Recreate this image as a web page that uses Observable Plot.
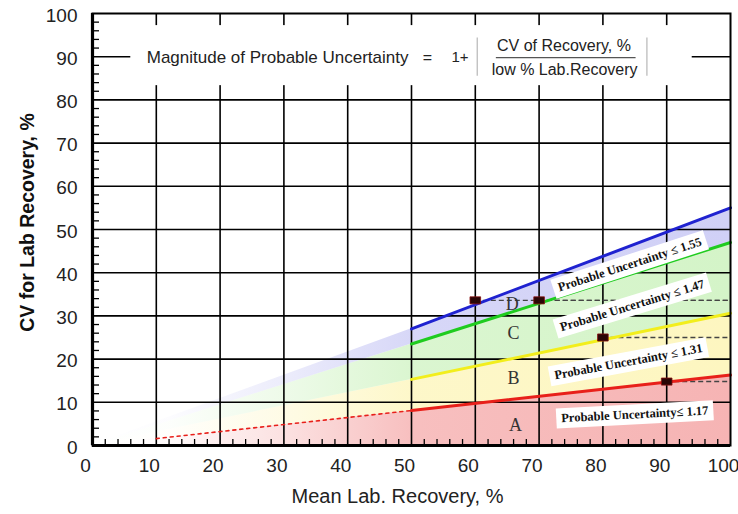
<!DOCTYPE html>
<html><head><meta charset="utf-8">
<script src="https://cdn.jsdelivr.net/npm/d3@7"></script>
<script src="https://cdn.jsdelivr.net/npm/@observablehq/plot@0.6"></script>
<style>
body{margin:0;background:#fff;}
#chart svg{overflow:visible;}
</style>
</head><body>
<div id="chart"></div>
<script>
// ---- data ----
const xTicks = [0,10,20,30,40,50,60,70,80,90,100];
const yTicks = [0,10,20,30,40,50,60,70,80,90,100];
const gridTicks = [10,20,30,40,50,60,70,80,90];
const minorTicks = [2,4,6,8,12,14,16,18,22,24,26,28,32,34,36,38,42,44,46,48,52,54,56,58,62,64,66,68,72,74,76,78,82,84,86,88,92,94,96,98];

const recovery = [0, 10, 50, 100];
const cvBlue   = [0, 5.5, 27, 55];
const cvGreen  = [0, 4.7, 23.5, 47];
const cvYellow = [0, 3.1, 15.3, 30.6];
const cvRed    = [0, 1.6, 8.1, 16.3];

const markerX = [60, 70, 80, 90];
const markerY = [33.6, 33.6, 25, 14.8];
const dashEnd = 100;

const letterText = ["A", "B", "C", "D"];
const letterX = [66.3, 66, 66, 65.8];
const letterY = [4.6, 15.5, 25.9, 32.8];

const labelText = ["Probable Uncertainty ≤ 1.55", "Probable Uncertainty ≤ 1.47", "Probable Uncertainty ≤ 1.31", "Probable Uncertainty≤ 1.17"];
const labelX = [84.2, 84.6, 84, 85];
const labelY = [41.9, 32.4, 19.4, 7.2];
const labelAngle = [-18, -17, -10.5, -3];

const formulaLead = "Magnitude of Probable Uncertainty";
const formulaNum = "CV of Recovery, %";
const formulaDen = "low % Lab.Recovery";
const formulaBox = {x1: 6, x2: 94, y1: 83.3, y2: 97.2};
const bracketX = [60.3, 86.9];
const bracketSpan = {y1: 85.5, y2: 94.3};

const xTitle = "Mean Lab. Recovery, %";
const yTitle = "CV for Lab Recovery, %";

// ---- styles ----
const bandColors = {red: "#f6b4b4", yellow: "#fdf6c0", green: "#d4f4c8", blue: "#d0d0f6"};
const lineColors = {red: "#e8201a", yellow: "#f2ee1c", green: "#1fcc1f", blue: "#1f22d0"};
const fadeStops = [[0, 0], [0.12, 0.06], [0.3, 0.4], [0.5, 0.85], [1, 1]];

const table = recovery.map((x, i) => ({x, red: cvRed[i], yellow: cvYellow[i], green: cvGreen[i], blue: cvBlue[i]}));
const upper = table.filter(d => d.x >= 50);
const redDashed = table.filter(d => d.x >= 10 && d.x <= 50);
const markers = markerX.map((x, i) => ({x, y: markerY[i]}));
const letters = letterText.map((t, i) => ({t, x: letterX[i], y: letterY[i]}));
const labels = labelText.map((t, i) => ({t, x: labelX[i], y: labelY[i], a: labelAngle[i]}));
const brackets = bracketX.map(x => ({x, ...bracketSpan}));

const wideSquare = {
  draw(context, size) {
    const s = Math.sqrt(size);
    const w = s * 0.6, h = s * 0.4;
    context.rect(-w, -h, 2 * w, 2 * h);
  }
};

function gradientDefs() {
  const ns = "http://www.w3.org/2000/svg";
  const defs = document.createElementNS(ns, "defs");
  for (const [name, color] of Object.entries(bandColors)) {
    const g = document.createElementNS(ns, "linearGradient");
    g.setAttribute("id", "grad-" + name);
    g.setAttribute("x1", "0"); g.setAttribute("x2", "1");
    g.setAttribute("y1", "0"); g.setAttribute("y2", "0");
    for (const [o, a] of fadeStops) {
      const s = document.createElementNS(ns, "stop");
      s.setAttribute("offset", o);
      s.setAttribute("stop-color", color);
      s.setAttribute("stop-opacity", a);
      g.append(s);
    }
    defs.append(g);
  }
  return defs;
}

const W = 738, H = 514, ML = 92, MR = 8, MT = 13, MB = 69;
const frameW = W - ML - MR, frameH = H - MT - MB;

const chart = Plot.plot({
  width: W, height: H,
  marginLeft: ML, marginRight: MR, marginTop: MT, marginBottom: MB,
  x: {domain: [0, 100]},
  y: {domain: [0, 100]},
  style: {fontFamily: "'Liberation Sans', Arial, sans-serif", background: "white", color: "black"},
  marks: [
    gradientDefs,
    Plot.areaY(table, {x: "x", y1: 0, y2: "red", fill: "url(#grad-red)"}),
    Plot.areaY(table, {x: "x", y1: "red", y2: "yellow", fill: "url(#grad-yellow)"}),
    Plot.areaY(table, {x: "x", y1: "yellow", y2: "green", fill: "url(#grad-green)"}),
    Plot.areaY(table, {x: "x", y1: "green", y2: "blue", fill: "url(#grad-blue)"}),
    Plot.ruleX(gridTicks, {stroke: "black", strokeWidth: 1.6}),
    Plot.ruleY(gridTicks, {stroke: "black", strokeWidth: 1.6}),
    Plot.tickX(minorTicks, {stroke: "black", strokeWidth: 1.3, insetTop: frameH - 6}),
    Plot.tickY(minorTicks, {stroke: "black", strokeWidth: 1.3, insetRight: frameW - 7}),
    Plot.rect([formulaBox], {x1: "x1", x2: "x2", y1: "y1", y2: "y2", fill: "white"}),
    Plot.ruleY(markers, {y: "y", x1: "x", x2: () => dashEnd, stroke: "#444", strokeWidth: 1.4, strokeDasharray: "5,3"}),
    Plot.line(redDashed, {x: "x", y: "red", stroke: lineColors.red, strokeWidth: 1.6, strokeDasharray: "3,4"}),
    Plot.line(upper, {x: "x", y: "red", stroke: lineColors.red, strokeWidth: 3}),
    Plot.line(upper, {x: "x", y: "yellow", stroke: lineColors.yellow, strokeWidth: 3}),
    Plot.line(upper, {x: "x", y: "green", stroke: lineColors.green, strokeWidth: 3}),
    Plot.line(upper, {x: "x", y: "blue", stroke: lineColors.blue, strokeWidth: 3}),
    Plot.dot(markers, {x: "x", y: "y", symbol: wideSquare, r: 5, fill: "#2a0606", stroke: "#8a1010", strokeWidth: 0.8}),
    Plot.text(letters, {x: "x", y: "y", text: "t", fontFamily: "'Liberation Serif', 'Times New Roman', serif", fontSize: 18, fill: "#333"}),
    Plot.text(labels, {x: "x", y: "y", text: "t", rotate: "a",
      fontFamily: "'Liberation Serif', 'Times New Roman', serif", fontWeight: "bold", fontSize: 12.5, fill: "#111"}),
    // formula
    Plot.text([formulaLead], {x: () => 8.5, y: () => 89.8, text: d => d, textAnchor: "start", fontSize: 17, fill: "#222"}),
    Plot.text(["="], {x: () => 52.5, y: () => 89.8, text: d => d, fontSize: 16, fill: "#222"}),
    Plot.text(["1+"], {x: () => 57.6, y: () => 89.8, text: d => d, fontSize: 15, fill: "#222"}),
    Plot.ruleX(brackets, {x: "x", y1: "y1", y2: "y2", stroke: "#b0b0b0", strokeWidth: 1.1}),
    Plot.text([formulaNum], {x: () => 73.9, y: () => 92.4, text: d => d, fontSize: 16, fill: "#222"}),
    Plot.text([formulaDen], {x: () => 74.0, y: () => 87.0, text: d => d, fontSize: 16, fill: "#222"}),
    Plot.ruleY([89.8], {x1: () => 63.3, x2: () => 85.2, stroke: "#555", strokeWidth: 1.2}),
    // frame and axes
    Plot.frame({stroke: "black", strokeWidth: 2}),
    Plot.ruleX([0], {stroke: "black", strokeWidth: 3.2}),
    Plot.ruleY([0], {stroke: "black", strokeWidth: 3.2}),
    Plot.axisY(yTicks, {tickSize: 0, tickPadding: 15, fontSize: 19, dy: 2, label: null, fill: "#222"}),
    Plot.axisX(xTicks, {tickSize: 0, tickPadding: 13, fontSize: 19, dx: -7, label: null, fill: "#222"}),
    Plot.text([xTitle], {frameAnchor: "bottom", dx: -14, dy: 51, lineAnchor: "middle", textAnchor: "middle", text: d => d, fontSize: 20, fill: "#222"}),
    Plot.text([yTitle], {frameAnchor: "left", dx: -65, dy: -7, rotate: -90, textAnchor: "middle", lineAnchor: "middle", text: d => d, fontSize: 19.5, fontWeight: "bold", fill: "#111"})
  ]
});

document.getElementById("chart").append(chart);

// white boxes behind the rotated uncertainty labels
const ns = "http://www.w3.org/2000/svg";
chart.querySelectorAll("text").forEach(t => {
  if (!labelText.includes(t.textContent)) return;
  const b = t.getBBox();
  const r = document.createElementNS(ns, "rect");
  r.setAttribute("x", b.x - 5);
  r.setAttribute("y", b.y - 3);
  r.setAttribute("width", b.width + 10);
  r.setAttribute("height", b.height + 6);
  r.setAttribute("fill", "white");
  r.setAttribute("stroke", "none");
  if (t.getAttribute("transform")) r.setAttribute("transform", t.getAttribute("transform"));
  t.parentNode.insertBefore(r, t);
});
</script>
</body></html>
